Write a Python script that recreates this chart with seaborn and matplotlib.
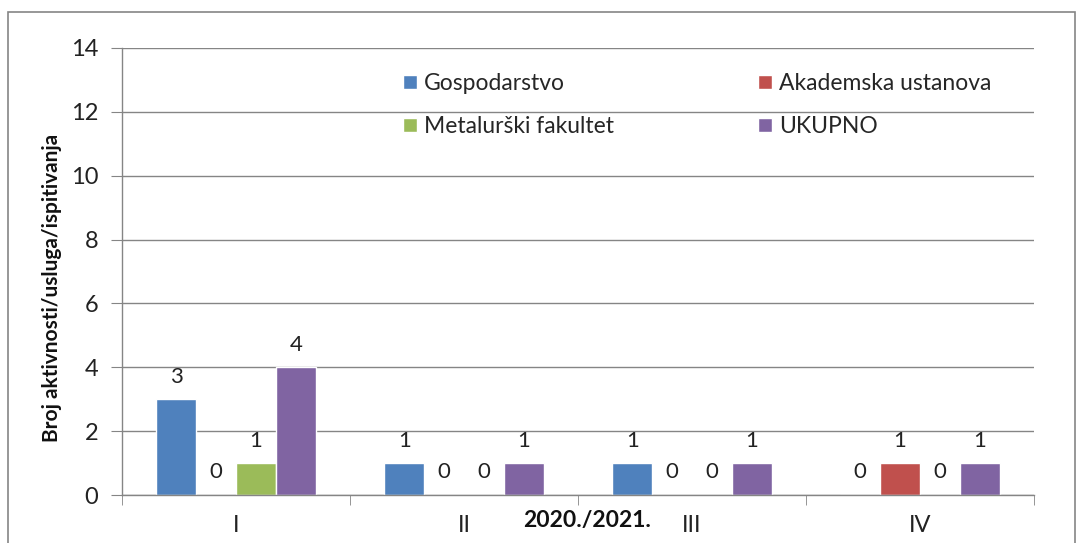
import pandas as pd
import seaborn as sns
import matplotlib.pyplot as plt
from matplotlib.patches import Rectangle
from matplotlib.ticker import FixedLocator

# Data
kvartali = ["I", "II", "III", "IV"]
kategorije = ["Gospodarstvo", "Akademska ustanova", "Metalurški fakultet", "UKUPNO"]
gospodarstvo = [3, 1, 1, 0]
akademska = [0, 0, 0, 1]
metalurski = [1, 0, 0, 0]
ukupno = [4, 1, 1, 1]
boje = ["#4F81BD", "#C0504D", "#9BBB59", "#8064A2"]

df = pd.DataFrame({
    "kvartal": kvartali * 4,
    "kategorija": [k for k in kategorije for _ in kvartali],
    "broj": gospodarstvo + akademska + metalurski + ukupno,
})

sns.set_style("white")
plt.rcParams["font.family"] = ["Lato", "DejaVu Sans"]

fig = plt.figure(figsize=(10.79, 5.43), dpi=100)
ax = fig.add_axes([122 / 1079, 48 / 543, (1034 - 122) / 1079, 447 / 543])

sns.barplot(data=df, x="kvartal", y="broj", hue="kategorija", order=kvartali,
            hue_order=kategorije, palette=boje, saturation=1, width=0.7,
            ax=ax, legend=True)

for c in ax.containers:
    ax.bar_label(c, padding=9, fontsize=16, color="#222222")

# axes styling
grey = "#858585"
ax.set_ylim(0, 14)
ax.set_xlim(-0.5, 3.5)
ax.set_yticks(range(0, 15, 2))
ax.yaxis.grid(True, color=grey, lw=1)
ax.set_axisbelow(True)
for s in ["top", "right"]:
    ax.spines[s].set_visible(False)
for s in ["left", "bottom"]:
    ax.spines[s].set_color(grey)
    ax.spines[s].set_linewidth(1)
ax.tick_params(axis="y", left=True, length=8, color=grey, labelsize=17, pad=9, labelcolor="#222222")
ax.tick_params(axis="x", which="major", bottom=False, labelsize=17, pad=11, labelcolor="#222222")
ax.xaxis.set_minor_locator(FixedLocator([-0.5, 0.5, 1.5, 2.5, 3.5]))
ax.tick_params(axis="x", which="minor", bottom=True, length=7, color=grey)

ax.set_ylabel("Broj aktivnosti/usluga/ispitivanja", fontsize=15, fontweight="bold", color="#111111")
ax.yaxis.set_label_coords(-0.066, 0.463)
ax.set_xlabel("2020./2021.", fontsize=16.5, fontweight="bold", color="#111111")
ax.xaxis.set_label_coords(0.51, -0.033)

# legend, column-major order so rows read like the original
h, l = ax.get_legend_handles_labels()
order = [0, 2, 1, 3]
ax.legend([h[i] for i in order], [l[i] for i in order], ncol=2, frameon=False,
          loc="upper left", bbox_to_anchor=(0.286, 0.99), fontsize=16.5,
          handlelength=0.6, handleheight=0.6, handletextpad=0.3,
          labelspacing=0.95, columnspacing=6.3)

fig.patches.append(Rectangle((8 / 1079, -0.1), (1075 - 8) / 1079, 1.1 - 12 / 543,
                             transform=fig.transFigure, fill=False,
                             edgecolor=grey, lw=1.2))

fig.savefig("out.png", dpi=100)
